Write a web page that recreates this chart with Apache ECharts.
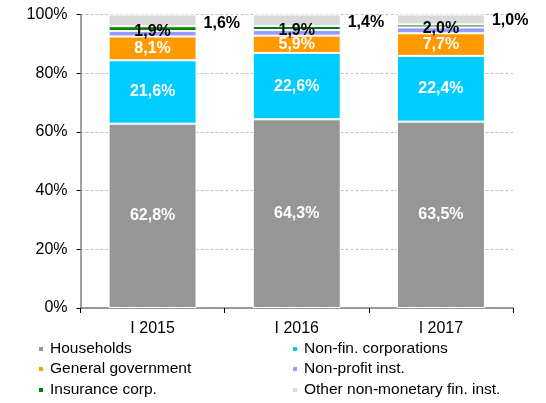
<!DOCTYPE html>
<html>
<head>
<meta charset="utf-8">
<script src="https://cdn.jsdelivr.net/npm/echarts@6/dist/echarts.min.js"></script>
<style>
html,body{margin:0;padding:0;background:#fff;}
#chart{width:546px;height:403px;}
</style>
</head>
<body>
<div id="chart"></div>
<script>
var categories = ['I 2015', 'I 2016', 'I 2017'];
var households = [62.8, 64.3, 63.5];
var nonFinCorp = [21.6, 22.6, 22.4];
var generalGov = [8.1, 5.9, 7.7];
var nonProfit = [1.9, 1.9, 2.0];
var insurance = [1.6, 1.4, 1.0];
var otherFin = [4.0, 3.9, 3.4];
var yTicks = [0, 20, 40, 60, 80, 100];

var FONT = 'Liberation Sans, Arial, sans-serif';
function fmt(p) { return p.value.toFixed(1).replace('.', ',') + '%'; }

var whiteLabel = { show: true, position: 'inside', color: '#fff', fontWeight: 'bold', fontSize: 16, fontFamily: FONT, formatter: fmt };

function mkSeries(name, data, color, label, z) {
  return {
    name: name, type: 'bar', stack: 'total', data: data,
    barCategoryGap: '39%',
    itemStyle: { color: color, borderColor: '#fff', borderWidth: 1 },
    label: label || { show: false },
    emphasis: { disabled: true },
    z: z || 2
  };
}

var series = [
  mkSeries('Households', households, '#969696', whiteLabel),
  mkSeries('Non-fin. corporations', nonFinCorp, '#00CCFF', whiteLabel),
  mkSeries('General government', generalGov, '#FF9900', whiteLabel),
  mkSeries('Non-profit inst.', nonProfit, '#9999FF', { show: true, position: 'inside', offset: [0, -2], color: '#000', fontWeight: 'bold', fontSize: 16, fontFamily: FONT, formatter: fmt }, 5),
  mkSeries('Insurance corp.', insurance, '#008000', { show: true, position: 'right', distance: 7, offset: [0, -5], color: '#000', fontWeight: 'bold', fontSize: 16, fontFamily: FONT, formatter: fmt }, 5),
  mkSeries('Other non-monetary fin. inst.', otherFin, '#D9D9D9', null, 1)
];

var legendPos = [
  ['Households', 37, 341], ['Non-fin. corporations', 291, 341],
  ['General government', 37, 361], ['Non-profit inst.', 291, 361],
  ['Insurance corp.', 37, 382], ['Other non-monetary fin. inst.', 291, 382]
];
var legends = legendPos.map(function (l) {
  return {
    data: [l[0]], left: l[1], top: l[2], icon: 'rect', itemWidth: 6, itemHeight: 6,
    itemGap: 0, padding: 0, selectedMode: false,
    textStyle: { fontSize: 15.5, fontFamily: FONT, color: '#000', padding: [0, 0, 0, 1] }
  };
});

var chart = echarts.init(document.getElementById('chart'), null, { renderer: 'canvas' });
chart.setOption({
  animation: false,
  backgroundColor: '#fff',
  grid: { left: 80.5, right: 33, top: 14.5, bottom: 95, containLabel: false },
  legend: legends,
  xAxis: {
    type: 'category', data: categories,
    axisLine: { show: true, lineStyle: { color: '#808080', width: 1.5 } },
    axisTick: { show: true, alignWithLabel: false, length: 5, lineStyle: { color: '#000' } },
    axisLabel: { fontSize: 16, fontFamily: FONT, color: '#000', margin: 13 }
  },
  yAxis: {
    type: 'value', min: yTicks[0], max: yTicks[yTicks.length - 1], interval: 20,
    axisLine: { show: true, lineStyle: { color: '#808080', width: 1.5 } },
    axisTick: { show: true, length: 4, lineStyle: { color: '#000' } },
    axisLabel: { fontSize: 16, fontFamily: FONT, color: '#000', margin: 13, formatter: '{value}%' },
    splitLine: { show: true, lineStyle: { color: '#BFBFBF', type: [3, 2], width: 1 } }
  },
  series: series
});
</script>
</body>
</html>
